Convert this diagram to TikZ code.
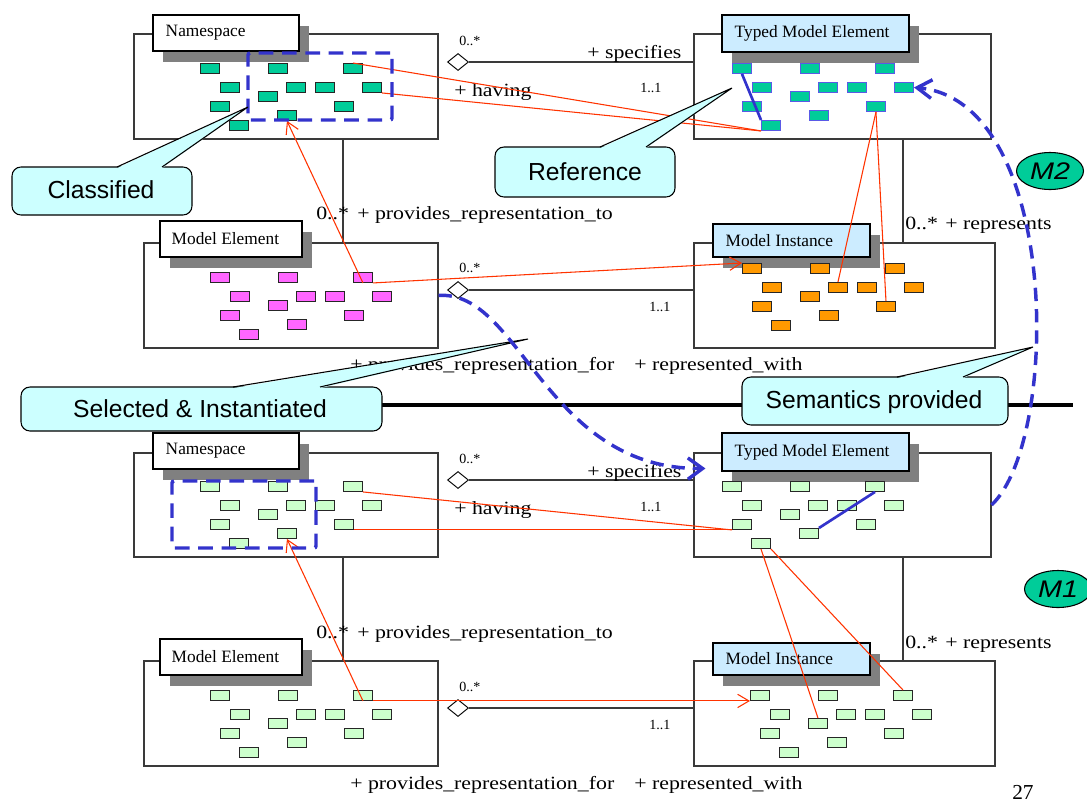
\documentclass[tikz,border=0pt]{standalone}
\usepackage{fontspec}
\setmainfont{Liberation Serif}
\newfontfamily\lblfont[FakeStretch=1.17]{Liberation Serif}
\newfontfamily\calloutfont{Liberation Sans}
\newfontfamily\levelfont[FakeStretch=1.2]{Liberation Sans}
\usetikzlibrary{arrows.meta,calc,fit,shapes.geometric}

\newdimen\px \px=0.75pt

\definecolor{cTeal}{HTML}{00CC99}
\definecolor{cPink}{HTML}{FF66FF}
\definecolor{cOrange}{HTML}{FF9900}
\definecolor{cMint}{HTML}{CCFFCC}
\definecolor{cTitle}{HTML}{CCECFF}
\definecolor{cCall}{HTML}{CCFFFF}
\definecolor{cBlue}{HTML}{3333CC}
\definecolor{cCellBlue}{HTML}{5A5AE6}
\definecolor{cRed}{HTML}{FF3300}
\definecolor{cShadow}{HTML}{808080}
\definecolor{cFrame}{HTML}{3A3A3A}

% class box: outer frame, drop shadow and title tab
\newcommand\umlbox[9]{%
  \node[outerbox, fit={(#2,#3) (#4,#5)}] (#1) {};
  \fill[cShadow] (#6+10,#7+10.5) rectangle (#8+10,#9+10.5);
  \node[titlebox, fill=\titlefill, fit={(#6,#7) (#8,#9)}] (#1-t) {};
}

% the twelve element cells shown inside every box
\newcommand\cellgrid[4]{%
  \foreach \i/\dx/\dy in {1/0/0,2/68/0,3/143/0,4/20/19,5/86/19,6/115/19,7/162/19,8/58/28,9/10/38,10/134/38,11/77/47,12/29/57}
    \node[cell,#4] (#1-\i) at (#2+\dx,#3+\dy) {};
}

% speech bubble: name, left, top, right, bottom, pointer base x1, x2, tip x, tip y
\newcommand\callout[9]{%
  \coordinate (#1-tip) at (#8,#9);
  \filldraw[callbox] (#2,#3) rectangle (#4,#5);
  \fill[cCall] (#6,#3+1.2) -- (#1-tip) -- (#7,#3+1.2) -- cycle;
  \draw[callline] (#6,#3) -- (#1-tip) -- (#7,#3);
}

\begin{document}
\begin{tikzpicture}[x=0.75pt,y=-0.75pt,
  outerbox/.style={draw=cFrame, line width=0.8pt, fill=white, inner sep=0pt},
  titlebox/.style={draw=black, line width=0.8pt, inner sep=0pt},
  titletext/.style={anchor=west, inner sep=0pt, font=\rmfamily\fontsize{13pt}{15pt}\selectfont},
  cell/.style={draw=black!85, line width=0.7pt, minimum width=19\px, minimum height=10\px, inner sep=0pt, anchor=north west},
  tealcell/.style={fill=cTeal},
  tealbluecell/.style={fill=cTeal, draw=cCellBlue},
  pinkcell/.style={fill=cPink},
  orangecell/.style={fill=cOrange},
  mintcell/.style={fill=cMint},
  diam/.style={shape=diamond, draw=black, fill=white, line width=0.7pt, minimum width=21\px, minimum height=17\px, inner sep=0pt},
  assoc/.style={draw=cFrame, line width=0.8pt},
  lbl/.style={anchor=base west, inner sep=0pt, font=\lblfont\fontsize{14pt}{16pt}\selectfont},
  sml/.style={anchor=base west, inner sep=0pt, font=\rmfamily\fontsize{10.5pt}{12pt}\selectfont},
  redline/.style={draw=cRed, line width=0.8pt},
  redarrow/.style={redline, -{Straight Barb[length=8.5pt,width=10pt]}},
  blueline/.style={draw=cBlue, line width=2pt},
  bluebox/.style={draw=cBlue, line width=2.6pt, dash pattern=on 11pt off 6.5pt, inner sep=0pt, rounded corners=1.5pt},
  bluedash/.style={draw=cBlue, line width=2.6pt, dash pattern=on 10pt off 6pt},
  sepline/.style={draw=black, line width=3pt},
  callbox/.style={fill=cCall, draw=black, line width=0.8pt, rounded corners=9\px},
  callline/.style={draw=black, line width=0.8pt},
  calltext/.style={inner sep=0pt, font=\calloutfont\fontsize{18.5pt}{22pt}\selectfont},
  lvl/.style={shape=ellipse, draw=black, line width=0.8pt, fill=cTeal, minimum width=67\px, minimum height=37\px, inner sep=0pt, font=\levelfont\itshape\fontsize{18pt}{20pt}\selectfont},
  pagenum/.style={anchor=base west, inner sep=0pt, font=\rmfamily\fontsize{16pt}{18pt}\selectfont}
]
\useasboundingbox (0,0) rectangle (1087,803);

% ---- class boxes ----
\def\titlefill{white}
\umlbox{nsA}{134}{34}{438}{139}{153}{15}{299}{51}
\umlbox{meA}{144}{243}{438}{348}{160}{221}{302}{257}
\umlbox{nsB}{134}{453}{438}{557}{153}{433}{299}{469}
\umlbox{meB}{144}{661}{438}{766}{160}{639}{302}{675}
\def\titlefill{cTitle}
\umlbox{tmeA}{694}{34}{991}{139}{722}{15}{909}{52}
\umlbox{miA}{694}{243}{995}{348}{713}{224}{870}{257}
\umlbox{tmeB}{694}{453}{991}{557}{722}{433}{909}{471}
\umlbox{miB}{694}{661}{995}{766}{713}{643}{870}{675}

\node[titletext] (nsA-l) at ($(nsA-t.west)+(13,0)$) {Namespace};
\node[titletext] (meA-l) at ($(meA-t.west)+(12,0)$) {Model Element};
\node[titletext] (nsB-l) at ($(nsB-t.west)+(13,0)$) {Namespace};
\node[titletext] (meB-l) at ($(meB-t.west)+(12,0)$) {Model Element};
\node[titletext] (tmeA-l) at ($(tmeA-t.west)+(13,0)$) {Typed Model Element};
\node[titletext] (miA-l) at ($(miA-t.west)+(13,0)$) {Model Instance};
\node[titletext] (tmeB-l) at ($(tmeB-t.west)+(13,0)$) {Typed Model Element};
\node[titletext] (miB-l) at ($(miB-t.west)+(13,0)$) {Model Instance};

% ---- element cells ----
\cellgrid{nsA}{200}{63}{tealcell}
\cellgrid{tmeA}{732}{63}{tealbluecell}
\cellgrid{meA}{210}{272}{pinkcell}
\cellgrid{miA}{742}{263}{orangecell}
\cellgrid{nsB}{200}{481}{mintcell}
\cellgrid{tmeB}{722}{481}{mintcell}
\cellgrid{meB}{210}{690}{mintcell}
\cellgrid{miB}{750}{690}{mintcell}

% ---- associations ----
\foreach \d/\y in {dA/62, dB/290, dC/480, dD/708}
  \node[diam] (\d) at (458,\y) {};
\draw[assoc] (dA.east) -- (dA.east -| tmeA.west);
\draw[assoc] (dB.east) -- (dB.east -| miA.west);
\draw[assoc] (dC.east) -- (dC.east -| tmeB.west);
\draw[assoc] (dD.east) -- (dD.east -| miB.west);

\coordinate (vxL) at (343,0);
\coordinate (vxR) at (903,0);
\draw[assoc] (nsA.south -| vxL) -- (meA.north -| vxL);
\draw[assoc] (tmeA.south -| vxR) -- (miA.north -| vxR);
\draw[assoc] (nsB.south -| vxL) -- (meB.north -| vxL);
\draw[assoc] (tmeB.south -| vxR) -- (miB.north -| vxR);

% ---- role names and multiplicities ----
\node[sml] (mA1) at (459,45) {0..*};
\node[lbl] (rA1) at (587,58) {+ specifies};
\node[lbl] (rA2) at (454,96) {+ having};
\node[sml] (mA2) at (640,92) {1..1};
\node[lbl] (mA3) at (316,219) {0..*};
\node[lbl] (rA3) at (357,219) {+ provides\_representation\_to};
\node[lbl] (mA4) at (905,229) {0..*};
\node[lbl] (rA4) at (945,229) {+ represents};
\node[sml] (mA5) at (459,272) {0..*};
\node[sml] (mA6) at (649,311) {1..1};
\node[lbl] (rA5) at (350,370) {+ provides\_representation\_for};
\node[lbl] (rA6) at (634,370) {+ represented\_with};

\node[sml] (mB1) at (459,463) {0..*};
\node[lbl] (rB1) at (587,477) {+ specifies};
\node[lbl] (rB2) at (454,514) {+ having};
\node[sml] (mB2) at (640,511) {1..1};
\node[lbl] (mB3) at (316,638) {0..*};
\node[lbl] (rB3) at (357,638) {+ provides\_representation\_to};
\node[lbl] (mB4) at (905,648) {0..*};
\node[lbl] (rB4) at (945,648) {+ represents};
\node[sml] (mB5) at (459,691) {0..*};
\node[sml] (mB6) at (649,729) {1..1};
\node[lbl] (rB5) at (350,789) {+ provides\_representation\_for};
\node[lbl] (rB6) at (634,789) {+ represented\_with};

\node[pagenum] (pg) at (1012,799) {27};

% ---- element links, M2 level ----
\draw[redline] (nsA-3.north) -- (tmeA-12.south west);
\draw[redline] (nsA-7.south east) -- (tmeA-12.south west);
\draw[redarrow] (meA-3.south) -- (nsA-11.south);
\draw[redarrow] (meA-3.south east) -- (miA-1.north west);
\draw[redline] (tmeA-10.south) -- (miA-5.north);
\draw[redline] (tmeA-10.south) -- (miA-10.north);
\draw[blueline] (tmeA-1.south) -- (tmeA-12.north west);

% ---- element links, M1 level ----
\draw[redline] (nsB-3.south east) -- (tmeB-9.south west);
\draw[redline] (nsB-10.south east) -- (tmeB-9.south west);
\draw[redarrow] (meB-3.south) -- (nsB-11.south);
\draw[redarrow] (meB-3.south east) -- (miB-1.south west);
\draw[redline] (tmeB-12.south) -- (miB-8.north);
\draw[redline] (tmeB-12.south east) -- (miB-3.north);
\draw[blueline] (tmeB-3.south) -- (tmeB-11.north east);

% ---- selections ----
\node[bluebox, fit={(248,53) (392,120)}] (selA) {};
\node[bluebox, fit={(172,481) (316,548)}] (selB) {};

% ---- level separator ----
\coordinate (sepL) at (380,405);
\coordinate (sepR) at (1073,405);
\draw[sepline] (sepL) -- (sepR);

% ---- comments ----
\callout{cA}{12}{167}{192}{215}{117}{162}{248}{107}
\node[calltext] (cA-text) at (101,190) {Classified};
\callout{cB}{495}{147}{675}{197}{600}{646}{732}{88}
\node[calltext] (cB-text) at (585,172) {Reference};
\callout{cC}{21}{387}{382}{431}{233}{320}{528}{339}
\node[calltext] (cC-text) at (200,409) {Selected \& Instantiated};
\callout{cD}{742}{377}{1008}{425}{897}{963}{1033}{347}
\node[calltext] (cD-text) at (874,402) {Semantics provided};

% ---- level markers ----
\node[lvl] (m2) at (1050,171) {M2};
\node[lvl] (m1) at (1058,589) {M1};

% ---- cross-level flows ----
\coordinate (tmeB-in) at ($(tmeB.north west)+(12,16)$);
\draw[bluedash, -{Straight Barb[length=11pt,width=16pt]}]
  (meA.east) .. controls +(82,-6) and +(-161,1) .. (tmeB-in);
\draw[bluedash, -{Straight Barb[length=11pt,width=14pt]}]
  (tmeB.east) .. controls +(69,-65) and +(147,13) .. (tmeA-7.east);
\end{tikzpicture}
\end{document}
